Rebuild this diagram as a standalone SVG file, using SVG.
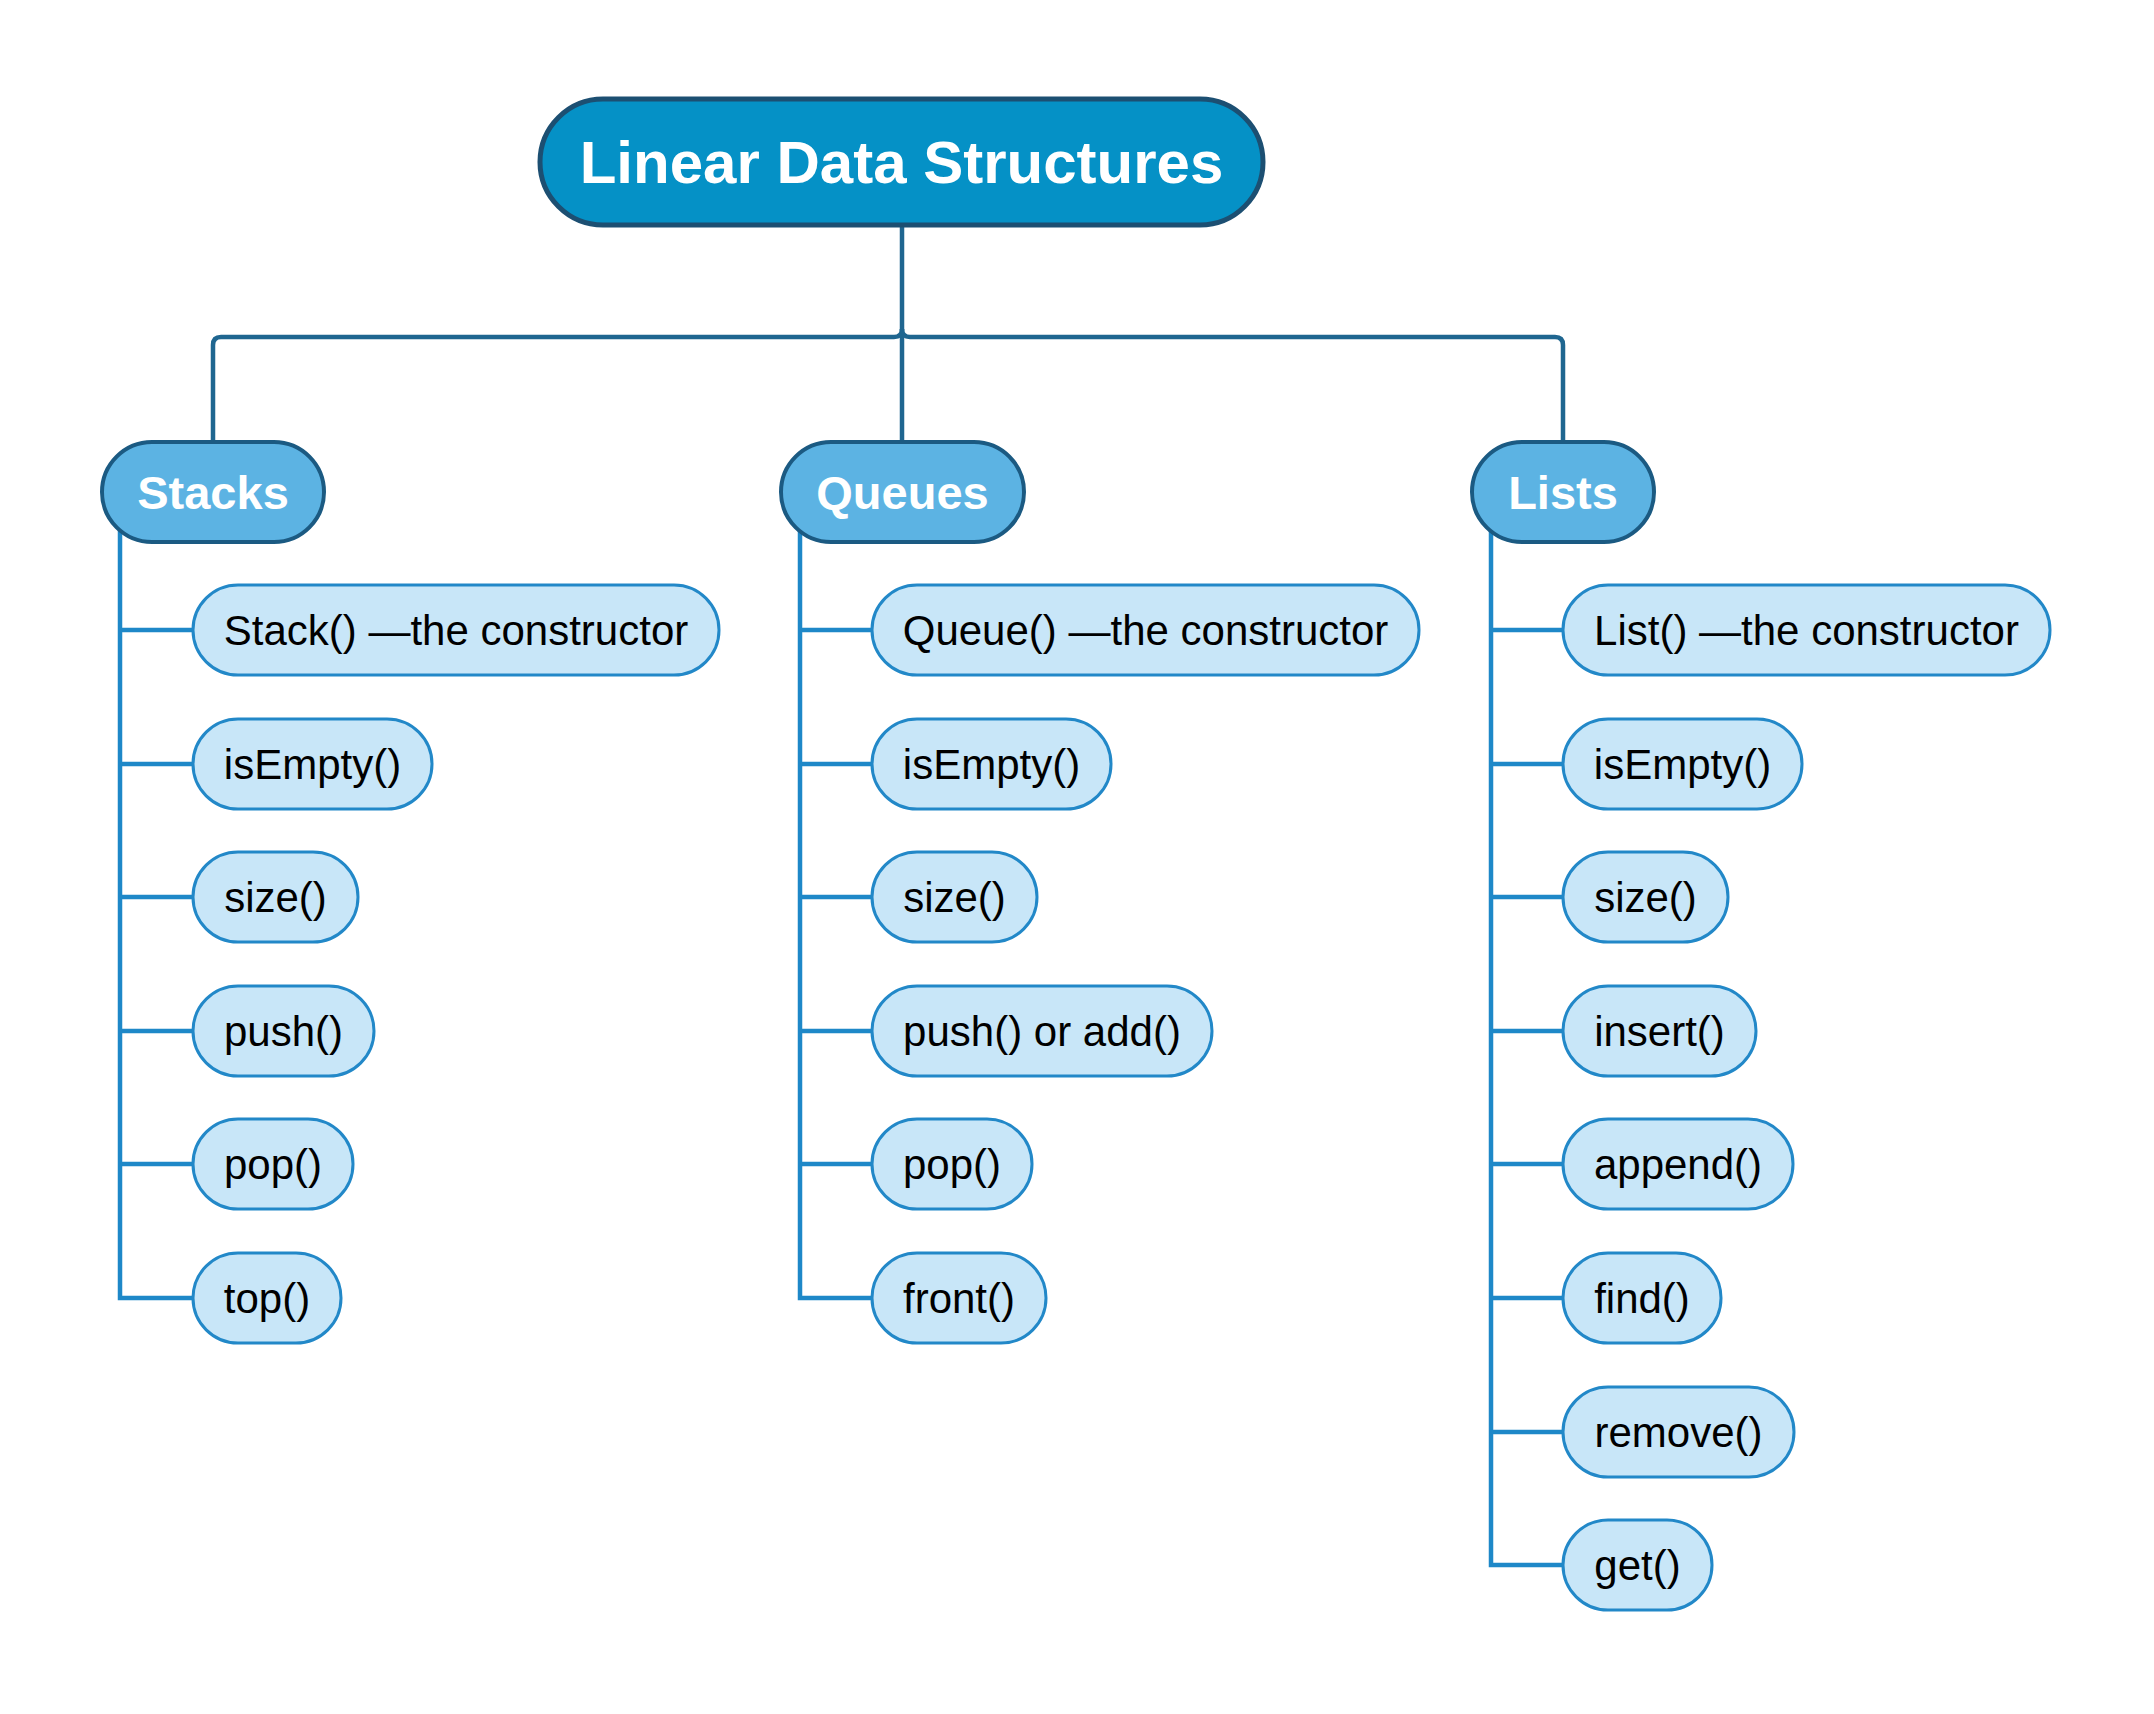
<svg xmlns="http://www.w3.org/2000/svg" width="2154" height="1714" viewBox="0 0 2154 1714">
<style>
.root rect{fill:#0591c6;stroke:#1c4f72;stroke-width:5}
.root text{font-family:"Liberation Sans",Arial,sans-serif;font-weight:bold;font-size:60px;fill:#fff;text-anchor:middle}
.l1 rect{fill:#5cb3e3;stroke:#1b5a82;stroke-width:4}
.l1 text{font-family:"Liberation Sans",Arial,sans-serif;font-weight:bold;font-size:47px;fill:#fff;text-anchor:middle}
.l2 rect{fill:#c8e6f8;stroke:#2288c8;stroke-width:3}
.l2 text{font-family:"Liberation Sans",Arial,sans-serif;font-size:42px;fill:#000;text-anchor:middle}
.top{fill:none;stroke:#1f6690;stroke-width:4.5}
.br{fill:none;stroke:#1e88c8;stroke-width:4.5}
</style>
<rect width="2154" height="1714" fill="#fff"/>
<g id="connectors">
<path class="top" d="M902 224 V442"/>
<path class="top" d="M213 442 V345 Q213 337 221 337 H894 Q902 337 902 329"/>
<path class="top" d="M1563 442 V345 Q1563 337 1555 337 H910 Q902 337 902 329"/>
<path class="br" d="M120 500 V1298 H193 M120 630 H193 M120 764 H193 M120 897 H193 M120 1031 H193 M120 1164 H193"/>
<path class="br" d="M800 500 V1298 H872 M800 630 H872 M800 764 H872 M800 897 H872 M800 1031 H872 M800 1164 H872"/>
<path class="br" d="M1491 500 V1565 H1563 M1491 630 H1563 M1491 764 H1563 M1491 897 H1563 M1491 1031 H1563 M1491 1164 H1563 M1491 1298 H1563 M1491 1432 H1563"/>
</g>
<g id="root" class="root"><rect x="540" y="99" width="723" height="126" rx="63"/><text x="901.5" y="183">Linear Data Structures</text></g>
<g id="stacks" class="l1"><rect x="102" y="442" width="222" height="100" rx="50"/><text x="213" y="509">Stacks</text></g>
<g id="queues" class="l1"><rect x="781" y="442" width="243" height="100" rx="50"/><text x="902.5" y="509">Queues</text></g>
<g id="lists" class="l1"><rect x="1472" y="442" width="182" height="100" rx="50"/><text x="1563" y="509">Lists</text></g>
<g id="s1" class="l2"><rect x="193" y="585" width="526" height="90" rx="45"/><text x="456" y="645">Stack() —the constructor</text></g>
<g id="s2" class="l2"><rect x="193" y="719" width="239" height="90" rx="45"/><text x="312.5" y="779">isEmpty()</text></g>
<g id="s3" class="l2"><rect x="193" y="852" width="165" height="90" rx="45"/><text x="275.5" y="912">size()</text></g>
<g id="s4" class="l2"><rect x="193" y="986" width="181" height="90" rx="45"/><text x="283.5" y="1046">push()</text></g>
<g id="s5" class="l2"><rect x="193" y="1119" width="160" height="90" rx="45"/><text x="273" y="1179">pop()</text></g>
<g id="s6" class="l2"><rect x="193" y="1253" width="148" height="90" rx="45"/><text x="267" y="1313">top()</text></g>
<g id="q1" class="l2"><rect x="872" y="585" width="547" height="90" rx="45"/><text x="1145.5" y="645">Queue() —the constructor</text></g>
<g id="q2" class="l2"><rect x="872" y="719" width="239" height="90" rx="45"/><text x="991.5" y="779">isEmpty()</text></g>
<g id="q3" class="l2"><rect x="872" y="852" width="165" height="90" rx="45"/><text x="954.5" y="912">size()</text></g>
<g id="q4" class="l2"><rect x="872" y="986" width="340" height="90" rx="45"/><text x="1042" y="1046">push() or add()</text></g>
<g id="q5" class="l2"><rect x="872" y="1119" width="160" height="90" rx="45"/><text x="952" y="1179">pop()</text></g>
<g id="q6" class="l2"><rect x="872" y="1253" width="174" height="90" rx="45"/><text x="959" y="1313">front()</text></g>
<g id="li1" class="l2"><rect x="1563" y="585" width="487" height="90" rx="45"/><text x="1806.5" y="645">List() —the constructor</text></g>
<g id="li2" class="l2"><rect x="1563" y="719" width="239" height="90" rx="45"/><text x="1682.5" y="779">isEmpty()</text></g>
<g id="li3" class="l2"><rect x="1563" y="852" width="165" height="90" rx="45"/><text x="1645.5" y="912">size()</text></g>
<g id="li4" class="l2"><rect x="1563" y="986" width="193" height="90" rx="45"/><text x="1659.5" y="1046">insert()</text></g>
<g id="li5" class="l2"><rect x="1563" y="1119" width="230" height="90" rx="45"/><text x="1678" y="1179">append()</text></g>
<g id="li6" class="l2"><rect x="1563" y="1253" width="158" height="90" rx="45"/><text x="1642" y="1313">find()</text></g>
<g id="li7" class="l2"><rect x="1563" y="1387" width="231" height="90" rx="45"/><text x="1678.5" y="1447">remove()</text></g>
<g id="li8" class="l2"><rect x="1563" y="1520" width="149" height="90" rx="45"/><text x="1637.5" y="1580">get()</text></g>
</svg>
